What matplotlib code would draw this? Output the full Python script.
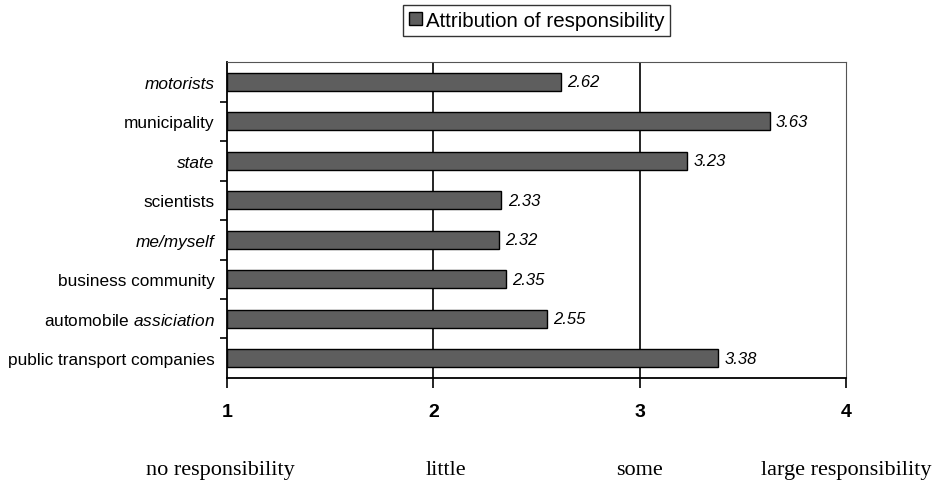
import matplotlib.pyplot as plt
from matplotlib.transforms import blended_transform_factory

plt.rcParams['font.family'] = ['Liberation Sans', 'DejaVu Sans']
plt.rcParams['mathtext.fontset'] = 'custom'
plt.rcParams['mathtext.it'] = 'Liberation Sans:italic'
plt.rcParams['mathtext.rm'] = 'Liberation Sans'

# categories from top to bottom
categories = ['motorists', 'municipality', 'state', 'scientists', 'me/myself',
              'business community', 'automobile $\\it{assiciation}$',
              'public transport companies']
italic = [True, False, True, False, True, False, False, False]
values = [2.62, 3.63, 3.23, 2.33, 2.32, 2.35, 2.55, 3.38]
scale_ticks = [1, 2, 3, 4]
scale_names = ['no responsibility', 'little', 'some', 'large responsibility']
scale_name_x = [0.97, 2.06, 3.0, 4.0]

fig = plt.figure(figsize=(9.35, 4.85), dpi=100)
ax = fig.add_axes([0.2428, 0.2186, 0.662, 0.6514])

ypos = list(range(len(categories)))[::-1]
bars = ax.barh(ypos, [v - 1 for v in values], left=1, height=0.46,
               color='#5e5e5e', edgecolor='black', linewidth=1.0,
               label='Attribution of responsibility', zorder=3)

for y, v in zip(ypos, values):
    ax.text(v + 0.03, y, f'{v:.2f}', va='center', ha='left',
            fontsize=12, style='italic', zorder=4)

ax.set_xlim(1, 4)
ax.set_ylim(-0.5, len(categories) - 0.5)

# vertical reference lines
for x in [2, 3]:
    ax.axvline(x, color='black', linewidth=1.2, zorder=2)

# category labels on the left
ax.set_yticks(ypos)
ax.set_yticklabels(categories, fontsize=12.4)
for y, lab in zip(ypos, ax.get_yticklabels()):
    if italic[len(categories) - 1 - y]:
        lab.set_style('italic')
ax.tick_params(axis='y', length=0, pad=9)

# boundary ticks between categories
ax.set_yticks([i + 0.5 for i in range(len(categories) - 1)], minor=True)
ax.tick_params(axis='y', which='minor', length=5, width=1.2, direction='out')

ax.set_xticks(scale_ticks)
ax.set_xticklabels([str(t) for t in scale_ticks], fontsize=14, fontweight='bold')
ax.tick_params(axis='x', length=7, width=1.2, direction='out', pad=11)

for side in ['top', 'right']:
    ax.spines[side].set_color('#555555')
    ax.spines[side].set_linewidth(0.8)
for side in ['left', 'bottom']:
    ax.spines[side].set_color('black')
    ax.spines[side].set_linewidth(1.3)

# verbal scale below the axis
trans = blended_transform_factory(ax.transData, fig.transFigure)
for x, name in zip(scale_name_x, scale_names):
    fig.text(x, 0.03, name, transform=trans, ha='center', va='center',
             fontsize=16, family='Liberation Serif')

leg = fig.legend(handles=[bars], loc='center', bbox_to_anchor=(0.574, 0.956),
                 fontsize=14.8, frameon=True, fancybox=False, handlelength=0.6,
                 handleheight=0.6, handletextpad=0.2, borderpad=0.3)
leg.get_frame().set_edgecolor('black')
leg.get_frame().set_linewidth(1.0)

fig.savefig('out.png', dpi=100)
